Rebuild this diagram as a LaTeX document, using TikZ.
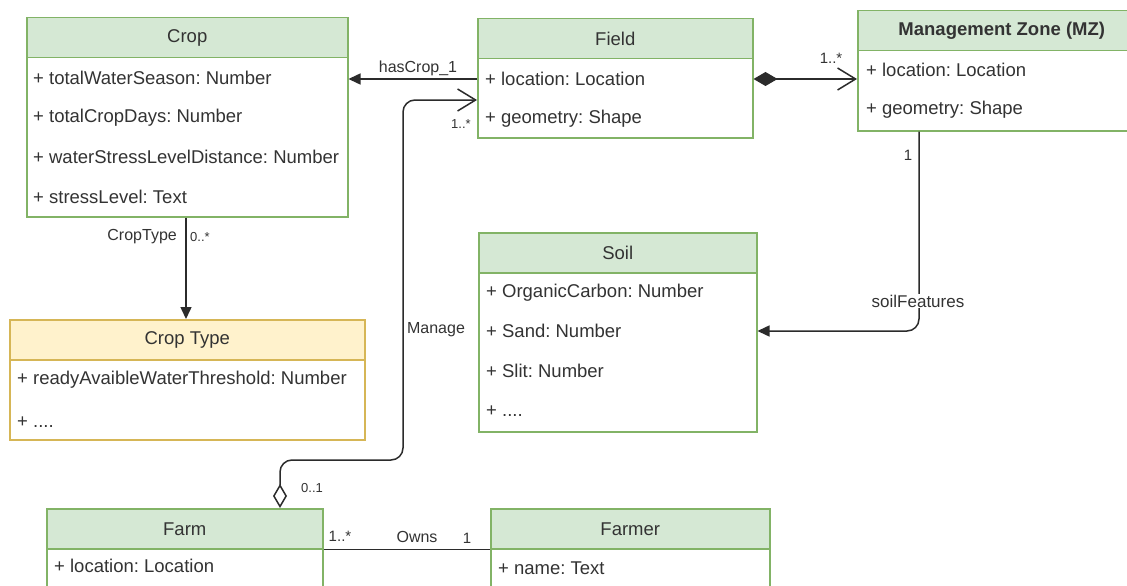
\documentclass[tikz,border=0pt]{standalone}
\usepackage{fontspec}
\setmainfont{Liberation Sans}
\usetikzlibrary{arrows.meta,calc}
\frenchspacing

\definecolor{hdrgreen}{HTML}{D5E8D4}
\definecolor{strgreen}{HTML}{82B366}
\definecolor{hdryellow}{HTML}{FFF2CC}
\definecolor{stryellow}{HTML}{D6B656}
\definecolor{txt}{HTML}{333333}
\definecolor{wire}{HTML}{2B2B2B}

\tikzset{
  hdr/.style={draw=strgreen, fill=hdrgreen, line width=1.5pt, anchor=north west,
    inner sep=0pt, text=txt, font=\fontsize{18.5}{20}\selectfont},
  hdry/.style={hdr, draw=stryellow, fill=hdryellow},
  body/.style={draw=strgreen, fill=white, line width=1.5pt, anchor=north west, inner sep=0pt},
  bodyy/.style={body, draw=stryellow},
  attr/.style={anchor=west, inner sep=0pt, text=txt, font=\fontsize{18.5}{20}\selectfont},
  lbl/.style={inner sep=1pt, text=txt, font=\fontsize{16}{18}\selectfont},
  mult/.style={inner sep=0pt, text=txt, font=\fontsize{13}{15}\selectfont},
  wireline/.style={draw=wire, line width=1.5pt},
  solidhead/.style={-{Triangle[length=12pt,width=11pt]}},
}

% one class box: header and body
\newcommand{\umlbox}[8]{%
  % #1 name, #2 left, #3 top, #4 right, #5 header bottom, #6 bottom, #7 style suffix, #8 title
  \node[hdr#7, minimum width=#4-#2, minimum height=#5-#3] (#1) at (#2,#3) {#8};
  \node[body#7, minimum width=#4-#2, minimum height=#6-#5] (#1b) at (#2,#5) {};
}

\begin{document}
\begin{tikzpicture}[x=1pt,y=-1pt]
\useasboundingbox (0,0) rectangle (1127,586);
\clip (0,0) rectangle (1127,586);
\fill[white] (0,0) rectangle (1127,586);

% classes
\umlbox{crop}{26}{17}{347}{57}{216}{}{Crop}
\node[attr] (crop1) at (33,78)  {+ totalWaterSeason: Number};
\node[attr] (crop2) at (33,118) {+ totalCropDays: Number};
\node[attr] (crop3) at (33,157) {+ waterStressLevelDistance: Number};
\node[attr] (crop4) at (33,197) {+ stressLevel: Text};

\umlbox{field}{477}{18}{752}{58}{137}{}{Field}
\node[attr] (field1) at (485,79)  {+ location: Location};
\node[attr] (field2) at (485,119) {+ geometry: Shape};

\umlbox{mz}{857}{10}{1145}{50}{130}{}{\textbf{Management Zone (MZ)}}
\node[attr] (mz1) at (866,70)  {+ location: Location};
\node[attr] (mz2) at (866,110) {+ geometry: Shape};

\umlbox{soil}{478}{232}{756}{272}{431}{}{Soil}
\node[attr] (soil1) at (486,293) {+ OrganicCarbon: Number};
\node[attr] (soil2) at (486,331) {+ Sand: Number};
\node[attr] (soil3) at (486,371) {+ Slit: Number};
\node[attr] (soil4) at (486,411) {+ ....};

\umlbox{ctype}{9}{319}{364}{359}{439}{y}{Crop Type}
\node[attr] (ctype1) at (17,380) {+ readyAvaibleWaterThreshold: Number};
\node[attr] (ctype2) at (17,422) {+ ....};

\umlbox{farm}{46}{508}{322}{548}{620}{}{Farm}
\node[attr] (farm1) at (54,566) {+ location: Location};

\umlbox{farmer}{490}{508}{769}{548}{620}{}{Farmer}
\node[attr] (farmer1) at (498,568) {+ name: Text};

% hasCrop
\draw[wireline, solidhead] (field.west |- field1) -- (crop.east |- field1);
\node[lbl] (hascrop) at (418,68) {hasCrop\_1};

% composition Field -> MZ
\draw[wireline, {Diamond[length=24pt,width=14pt]}-{Straight Barb[length=18pt,width=22pt]}]
  (fieldb.east |- field1) -- (mzb.west |- field1);
\node[mult, font=\fontsize{15}{17}\selectfont] (mzmult) at (831,58) {1..*};

% CropType
\coordinate (cta) at ($(cropb.south west)+(160,0)$);
\draw[wireline, solidhead] (cta) -- (ctype.north -| cta);
\node[lbl, anchor=east] (ctlabel) at (178,237) {CropType};
\node[mult, anchor=west] (ctmult) at (190,237) {0..*};

% soilFeatures
\coordinate (sf0) at ($(mzb.south west)+(62,0)$);
\draw[wireline, solidhead, rounded corners=12pt]
  (sf0) -- (sf0 |- soil2) -- (soilb.east |- soil2);
\node[lbl, fill=white, font=\fontsize{17}{19}\selectfont] (sflabel) at (918,301) {soilFeatures};
\node[mult, font=\fontsize{15}{17}\selectfont] (sfmult) at (908,155) {1};

% Owns
\draw[wireline] (farm.south east) -- (farmer.south west);
\node[mult, font=\fontsize{15}{17}\selectfont] (ownsa) at (340,536) {1..*};
\node[lbl] (owns) at (417,537) {Owns};
\node[mult, font=\fontsize{15}{17}\selectfont] (ownsb) at (467,538) {1};

% Manage (aggregation Farm -> Field)
\coordinate (mg0) at ($(farm.north west)+(234,0)$);
\draw[wireline, rounded corners=12pt,
      {Diamond[open,fill=white,length=24pt,width=14pt]}-{Straight Barb[length=18pt,width=22pt]}]
  (mg0) -- (280,460) -- (403,460) -- (403,100) -- (field.west |- 0,100);
\node[lbl] (manage) at (436,330) {Manage};
\node[mult] (mgmulta) at (461,124) {1..*};
\node[mult] (mgmultb) at (312,488) {0..1};
\end{tikzpicture}
\end{document}
